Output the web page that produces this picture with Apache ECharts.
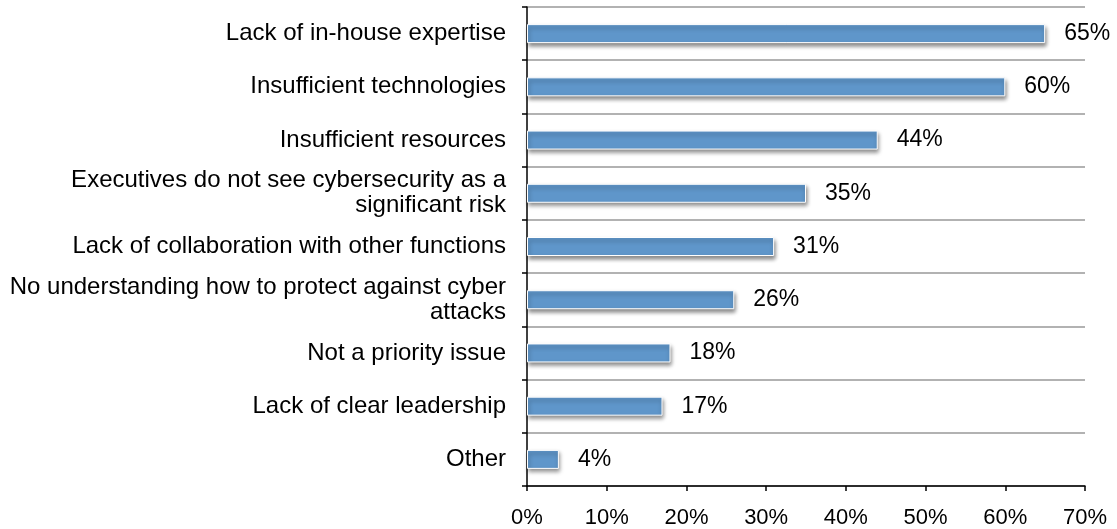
<!DOCTYPE html>
<html><head><meta charset="utf-8">
<script src="https://cdn.jsdelivr.net/npm/echarts@6/dist/echarts.min.js"></script>
<style>html,body{margin:0;padding:0;background:#fff}#c{width:1117px;height:529px}</style>
</head><body><div id="c"></div>
<script>
const categories = [
  "Lack of in-house expertise",
  "Insufficient technologies",
  "Insufficient resources",
  "Executives do not see cybersecurity as a\nsignificant risk",
  "Lack of collaboration with other functions",
  "No understanding how to protect against cyber\nattacks",
  "Not a priority issue",
  "Lack of clear leadership",
  "Other"
];
const values = [65, 60, 44, 35, 31, 26, 18, 17, 4];
const xTicks = { min: 0, max: 70, interval: 10 };

const font = "'Liberation Sans', Arial, sans-serif";
const chart = echarts.init(document.getElementById('c'));
chart.setOption({
  animation: false,
  grid: { left: 527, right: 32, top: 7, bottom: 42, containLabel: false },
  xAxis: {
    type: 'value', min: xTicks.min, max: xTicks.max, interval: xTicks.interval,
    axisLine: { show: true, lineStyle: { color: '#000', width: 1.5 } },
    axisTick: { show: true, length: 5, lineStyle: { color: '#000', width: 1.5 } },
    splitLine: { show: false },
    axisLabel: { formatter: '{value}%', color: '#000', fontSize: 22, fontFamily: font, margin: 21 }
  },
  yAxis: {
    type: 'category', data: categories, inverse: true,
    axisLine: { show: true, lineStyle: { color: '#000', width: 1.5 } },
    axisTick: { show: true, length: 5, lineStyle: { color: '#000', width: 1.5 } },
    splitLine: { show: true, lineStyle: { color: '#999', width: 1.5 } },
    axisLabel: { color: '#000', fontSize: 24, fontFamily: font, margin: 21, lineHeight: 25, align: 'right' }
  },
  series: [{
    type: 'bar', data: values, barWidth: 19,
    itemStyle: {
      color: '#5F96CA', borderColor: '#fff', borderWidth: 1,
      shadowColor: 'rgba(0,0,0,0.45)', shadowBlur: 4, shadowOffsetX: 1, shadowOffsetY: 3
    },
    label: { show: true, position: 'right', distance: 19, formatter: '{c}%', color: '#000', fontSize: 23, fontFamily: font }
  }]
});
</script></body></html>
